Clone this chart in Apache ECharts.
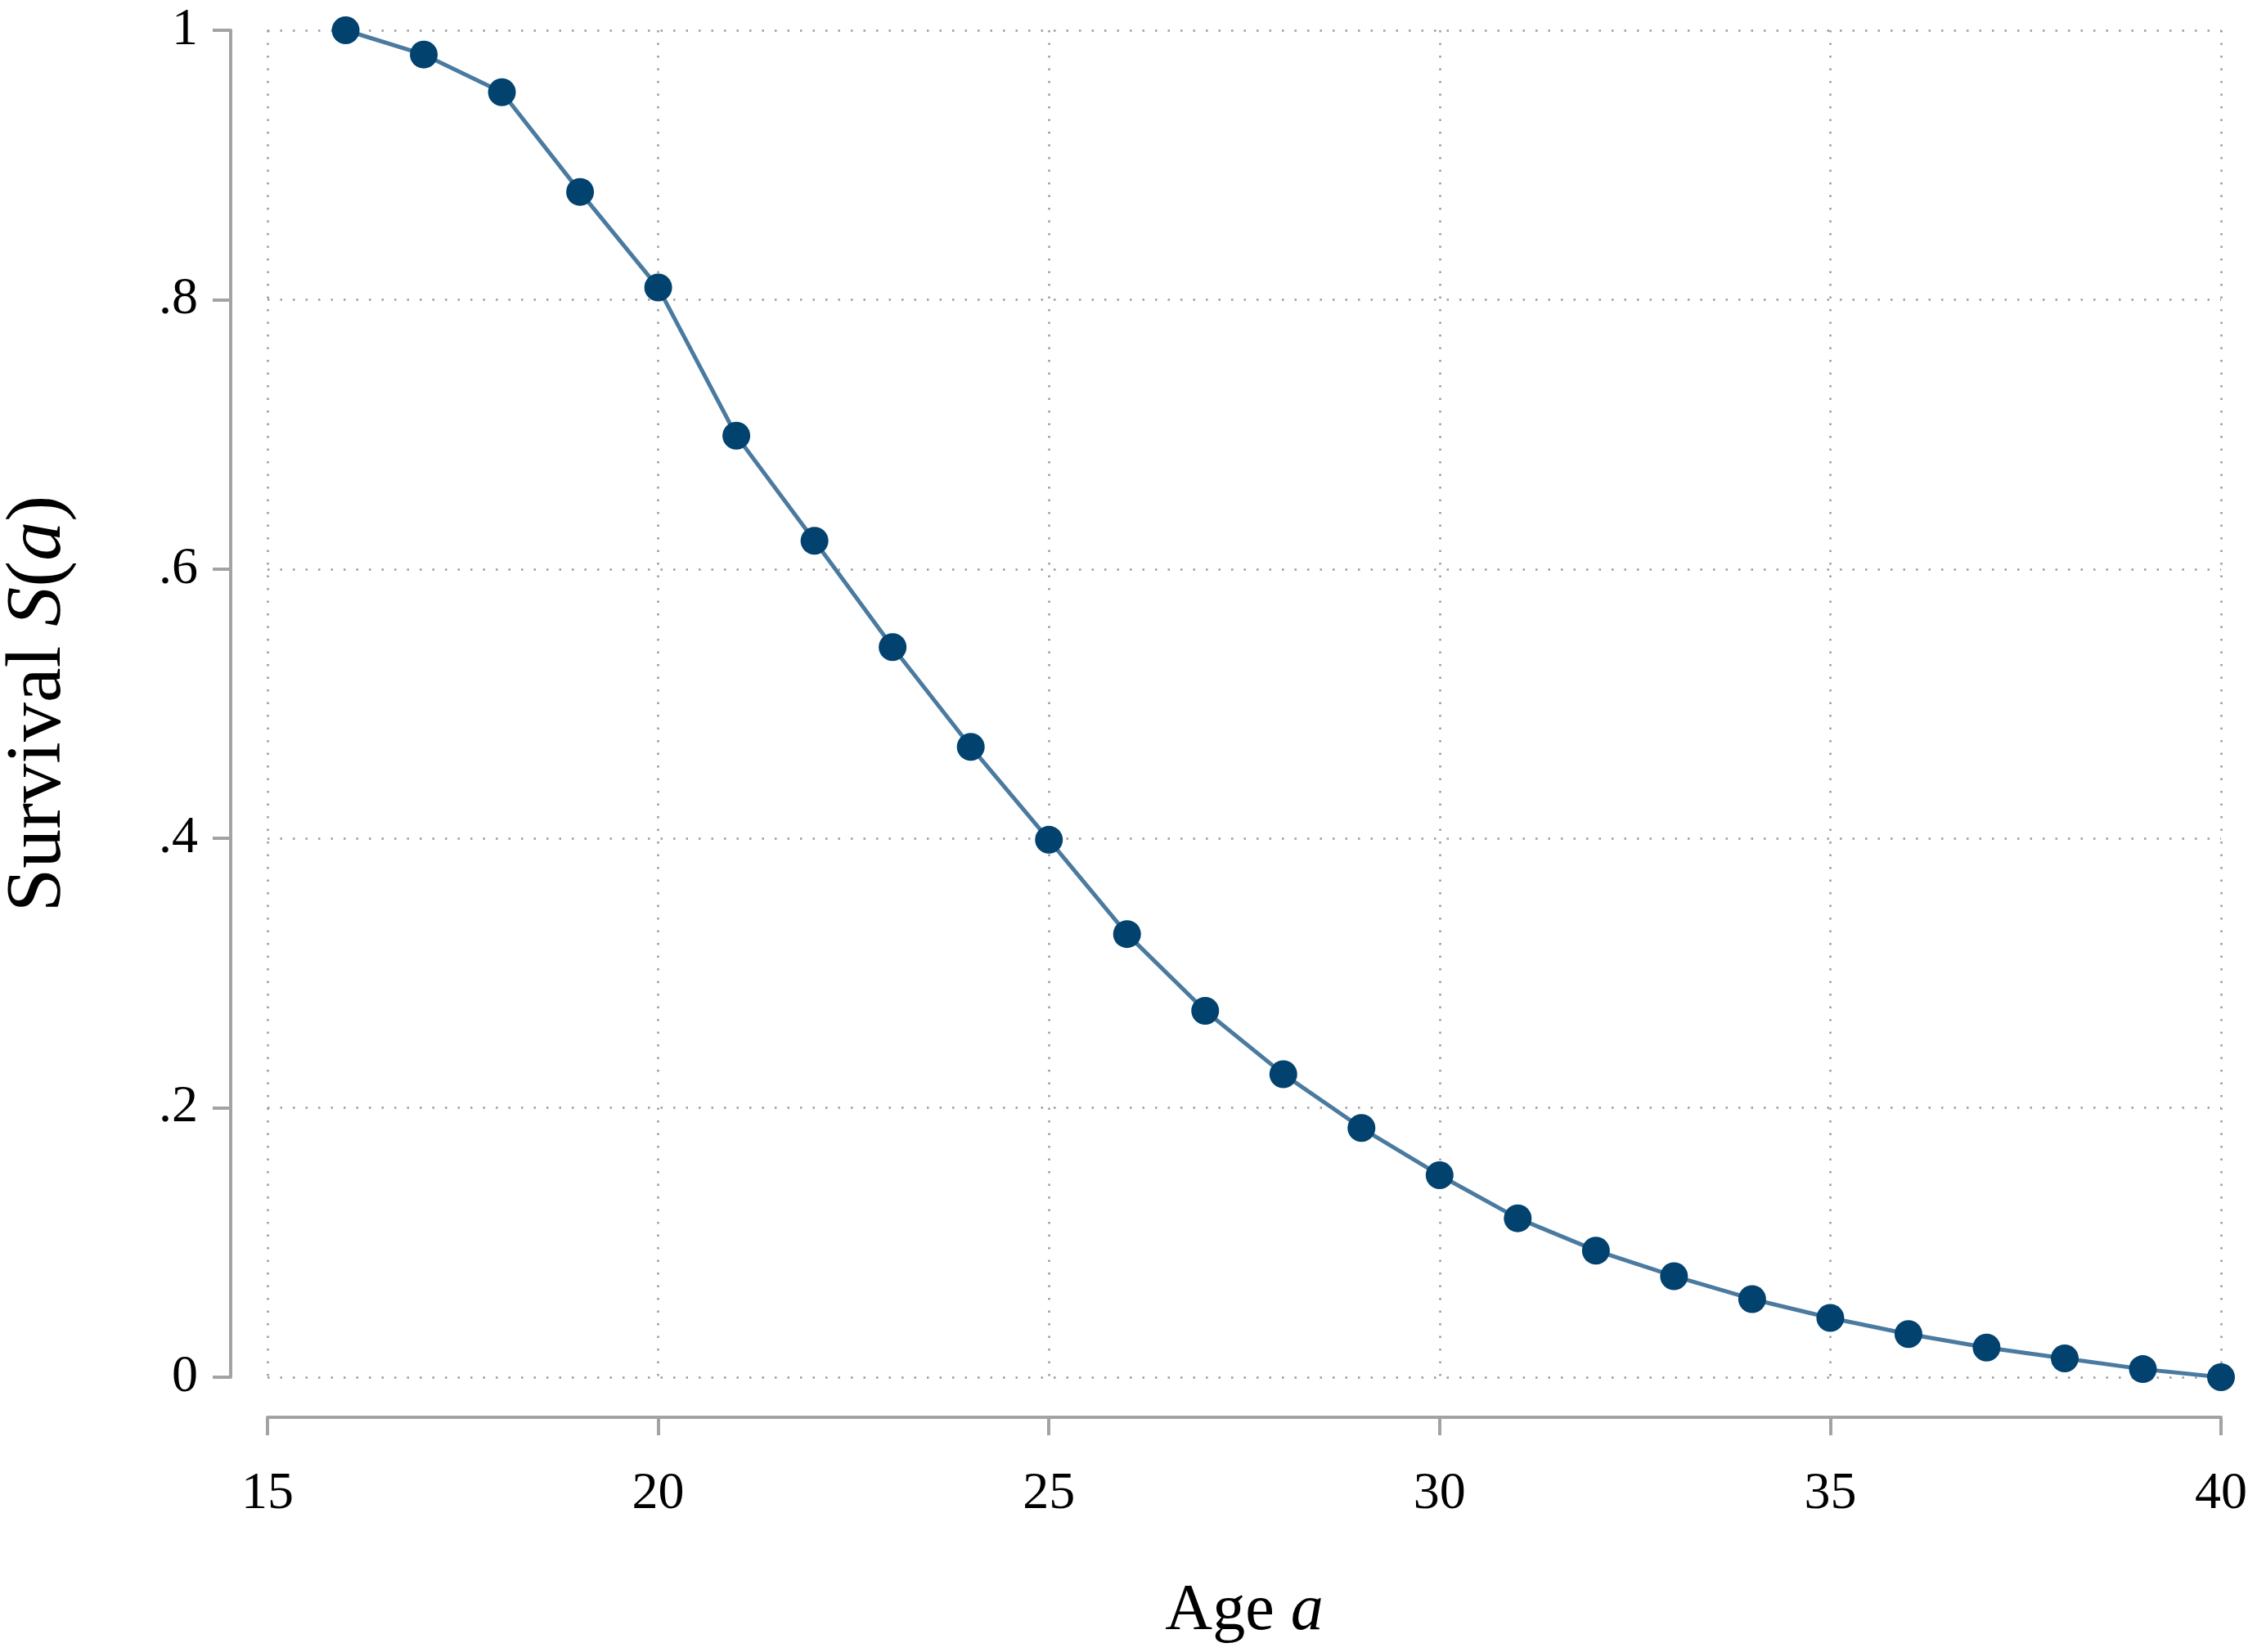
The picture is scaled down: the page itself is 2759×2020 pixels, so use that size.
<!DOCTYPE html>
<html>
<head>
<meta charset="utf-8">
<script src="https://cdn.jsdelivr.net/npm/echarts@6/dist/echarts.min.js"></script>
<style>html,body{margin:0;padding:0;background:#fff}#c{width:2759px;height:2020px}</style>
</head>
<body>
<div id="c"></div>
<script>
const ages = [16,17,18,19,20,21,22,23,24,25,26,27,28,29,30,31,32,33,34,35,36,37,38,39,40];
const survival = [1.0,0.982,0.954,0.880,0.809,0.699,0.621,0.542,0.468,0.399,0.329,0.272,0.225,0.185,0.150,0.118,0.094,0.075,0.058,0.044,0.032,0.022,0.014,0.006,0.0];
const xTicks = [15,20,25,30,35,40];
const yTicks = [0,0.2,0.4,0.6,0.8,1];

const FONT = '"Liberation Serif","DejaVu Serif",serif';
const AX = '#a3a3a3';
const chart = echarts.init(document.getElementById('c'));
chart.setOption({
  backgroundColor:'#fff',
  animation:false,
  grid:{left:327,right:44,top:37,bottom:336,containLabel:false,outerBoundsMode:'none'},
  xAxis:{
    type:'value',min:15,max:40,interval:5,offset:49,
    name:'Age {i|a}',nameLocation:'middle',nameGap:198,
    nameTextStyle:{fontFamily:FONT,fontSize:80,color:'#000',rich:{i:{fontFamily:FONT,fontSize:80,fontStyle:'italic',color:'#000'}}},
    axisLine:{show:true,onZero:false,lineStyle:{color:AX,width:4}},
    axisTick:{show:true,length:22,lineStyle:{color:AX,width:4}},
    axisLabel:{fontFamily:FONT,fontSize:64,color:'#000',margin:62,formatter:v=>xTicks.includes(v)?String(v):''},
    splitLine:{show:true,lineStyle:{color:'#9a9a9a',width:2.5,type:[2.5,13]}}
  },
  yAxis:{
    type:'value',min:0,max:1,interval:0.2,offset:45,
    name:'Survival {i|S}({i|a})',nameLocation:'middle',nameGap:186,nameRotate:90,
    nameTextStyle:{fontFamily:FONT,fontSize:96,color:'#000',rich:{i:{fontFamily:FONT,fontSize:96,fontStyle:'italic',color:'#000'}}},
    axisLine:{show:true,onZero:false,lineStyle:{color:AX,width:4}},
    axisTick:{show:true,length:22,lineStyle:{color:AX,width:4}},
    axisLabel:{fontFamily:FONT,fontSize:64,color:'#000',margin:40,formatter:v=>{const r=Math.round(v*10)/10; if(r===0)return '0'; if(r===1)return '1'; return String(r).replace('0.','.');}},
    splitLine:{show:true,lineStyle:{color:'#9a9a9a',width:2.5,type:[2.5,13]}}
  },
  series:[{
    type:'line',
    data:ages.map((a,i)=>[a,survival[i]]),
    symbol:'circle',symbolSize:34,
    lineStyle:{color:'#4a7a9f',width:5},
    itemStyle:{color:'#02426f'},
    z:3
  }]
});
</script>
</body>
</html>
